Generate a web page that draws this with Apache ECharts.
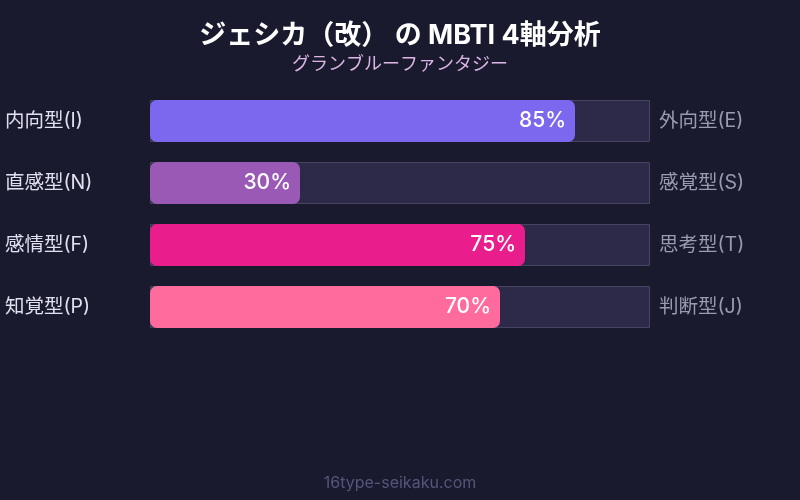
<!DOCTYPE html>
<html><head><meta charset="utf-8">
<script src="https://cdn.jsdelivr.net/npm/echarts@6/dist/echarts.min.js"></script>
<style>html,body{margin:0;padding:0;background:#1a1a2e}#c{width:800px;height:500px}</style>
</head><body><div id="c"></div>
<script>
const leftLabels = ['内向型(I)', '直感型(N)', '感情型(F)', '知覚型(P)'];
const rightLabels = ['外向型(E)', '感覚型(S)', '思考型(T)', '判断型(J)'];
const values = [85, 30, 75, 70];
const barColors = ['#7b68ee', '#9b59b6', '#e91e8c', '#ff6b9d'];
const maxValue = 100;

const FONT = "Inter, 'Noto Sans CJK JP', sans-serif";
const chart = echarts.init(document.getElementById('c'));
chart.setOption({
  backgroundColor: '#1a1a2e',
  animation: false,
  title: {
    text: 'ジェシカ（改） の MBTI 4軸分析',
    subtext: 'グランブルーファンタジー',
    left: 'center', top: 17,
    itemGap: 7,
    textStyle: { color: '#ffffff', fontSize: 27, fontWeight: 'bold', fontFamily: FONT },
    subtextStyle: { color: '#dcb6e6', fontSize: 18, fontFamily: FONT }
  },
  graphic: [{
    type: 'text', left: 'center', top: 475,
    style: { text: '16type-seikaku.com', fill: '#55557a', font: "16px " + FONT }
  }],
  grid: { left: 150, right: 150, top: 90, bottom: 162 },
  xAxis: { type: 'value', min: 0, max: maxValue, show: false },
  yAxis: [{
    type: 'category', data: leftLabels, inverse: true, position: 'left',
    axisLine: { show: false }, axisTick: { show: false },
    axisLabel: { color: '#e0e0f0', fontSize: 19.5, fontFamily: FONT, align: 'left', margin: 145 }
  }, {
    type: 'category', data: rightLabels, inverse: true, position: 'right',
    axisLine: { show: false }, axisTick: { show: false },
    axisLabel: { color: '#9a9ab2', fontSize: 19.5, fontFamily: FONT, align: 'left', margin: 9 }
  }],
  series: [{
    type: 'bar', yAxisIndex: 0, barWidth: 42, barGap: '-100%', silent: true,
    data: values.map(() => maxValue),
    itemStyle: { color: '#2c2a48', borderColor: '#46445f', borderWidth: 1 },
    z: 1
  }, {
    type: 'bar', yAxisIndex: 0, barWidth: 42,
    data: values.map((v, i) => ({ value: v, itemStyle: { color: barColors[i] } })),
    itemStyle: { borderRadius: 7 },
    label: {
      show: true, position: 'insideRight', distance: 9,
      formatter: '{c}%', color: '#ffffff', fontSize: 21, fontWeight: 500, fontFamily: FONT
    },
    z: 2
  }]
});
</script></body></html>
